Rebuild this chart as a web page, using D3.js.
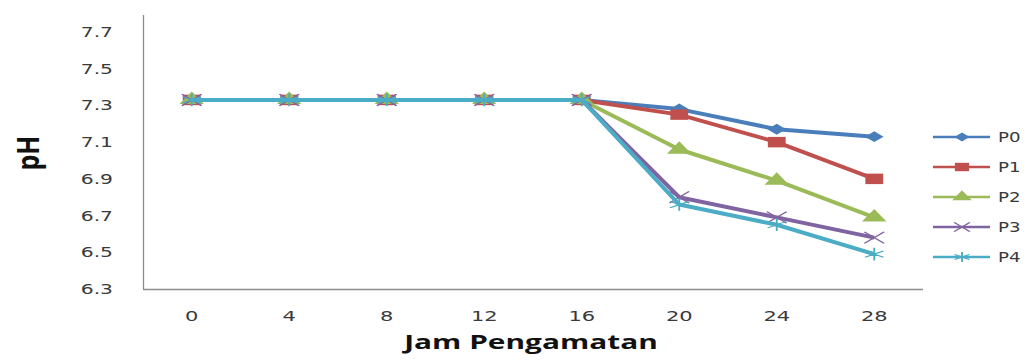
<!DOCTYPE html>
<html>
<head>
<meta charset="utf-8">
<script src="https://cdn.jsdelivr.net/npm/d3@7"></script>
<style>
  body { margin: 0; background: #fff; }
  svg { display: block; }
</style>
</head>
<body>
<script>
// data
var hours = ["0", "4", "8", "12", "16", "20", "24", "28"];
var P0 = [7.33, 7.33, 7.33, 7.33, 7.33, 7.28, 7.17, 7.13];
var P1 = [7.33, 7.33, 7.33, 7.33, 7.33, 7.25, 7.10, 6.90];
var P2 = [7.33, 7.33, 7.33, 7.33, 7.33, 7.06, 6.89, 6.69];
var P3 = [7.33, 7.33, 7.33, 7.33, 7.33, 6.80, 6.69, 6.58];
var P4 = [7.33, 7.33, 7.33, 7.33, 7.33, 6.76, 6.65, 6.49];
var seriesNames = ["P0", "P1", "P2", "P3", "P4"];
var yTicks = [6.3, 6.5, 6.7, 6.9, 7.1, 7.3, 7.5, 7.7];

var colors = ["#4a7ebb", "#c0504d", "#9bbb59", "#8064a2", "#4bacc6"];
// the reference picture is stretched sideways, so markers and text get a scaleX
var markers = [
  { type: d3.symbolSquare, size: 60, rot: 45, fill: true },
  { type: d3.symbolSquare, size: 110, rot: 0, fill: true },
  { type: d3.symbolTriangle, size: 90, rot: 0, fill: true },
  { type: d3.symbolTimes, size: 90, rot: 0, fill: false },
  { type: d3.symbolAsterisk, size: 110, rot: 0, fill: false }
];
var stretch = 1.7;

var series = seriesNames.map(function(n, i) {
  return { name: n, values: [P0, P1, P2, P3, P4][i] };
});

var width = 1029, height = 360;
var svg = d3.select("body").append("svg")
  .attr("width", width)
  .attr("height", height);

var x = d3.scaleBand()
  .domain(hours)
  .range([143, 923]);

var y = d3.scaleLinear()
  .domain([6.3, 7.7])
  .range([289, 32]);

var fontAxis = "'DejaVu Sans', Verdana, sans-serif";

// y axis
var yAxis = d3.axisLeft(y).tickValues(yTicks).tickFormat(d3.format(".1f")).tickSize(0);
var gy = svg.append("g").attr("transform", "translate(143,0)").call(yAxis);
gy.select(".domain").remove();
gy.selectAll("text")
  .attr("x", 0)
  .attr("transform", "translate(-30,0) scale(1.45,1)")
  .attr("fill", "#3a3a3a")
  .style("font-family", fontAxis).style("font-size", "14px");
svg.append("line")
  .attr("x1", 143.5).attr("x2", 143.5).attr("y1", 15).attr("y2", 289)
  .attr("stroke", "#8c8c8c").attr("stroke-width", 1.3);

// x axis
var xAxis = d3.axisBottom(x).tickSize(0).tickPadding(22);
var gx = svg.append("g").attr("transform", "translate(0,289)").call(xAxis);
gx.select(".domain").remove();
gx.selectAll("text")
  .attr("transform", "scale(1.5,1)")
  .attr("fill", "#3a3a3a")
  .style("font-family", fontAxis).style("font-size", "14px");
svg.append("line")
  .attr("x1", 143).attr("x2", 923).attr("y1", 289.5).attr("y2", 289.5)
  .attr("stroke", "#8c8c8c").attr("stroke-width", 1.3);

// titles
svg.append("text")
  .attr("transform", "translate(39,153) rotate(-90) scale(1,1.2)")
  .attr("text-anchor", "middle")
  .style("font-family", "'Open Sans', sans-serif")
  .style("font-weight", "bold")
  .style("font-size", "25px")
  .attr("fill", "#111")
  .text("pH");

svg.append("text")
  .attr("transform", "translate(531,349) scale(1.57,1)")
  .attr("text-anchor", "middle")
  .style("font-family", "'Open Sans', sans-serif")
  .style("font-weight", "bold")
  .style("font-size", "19px")
  .attr("fill", "#111")
  .text("Jam Pengamatan");

// lines + markers
var line = d3.line()
  .x(function(d, i) { return x(hours[i]) + x.bandwidth() / 2; })
  .y(function(d) { return y(d); });

function drawMarker(sel, k, scale) {
  var m = markers[k];
  sel.attr("d", d3.symbol().type(m.type).size(m.size * scale * scale))
    .attr("fill", m.fill ? colors[k] : "none")
    .attr("stroke", m.fill ? "none" : colors[k])
    .attr("stroke-width", 1.1);
}

series.forEach(function(s, k) {
  var g = svg.append("g");
  g.append("path")
    .attr("d", line(s.values))
    .attr("fill", "none")
    .attr("stroke", colors[k])
    .attr("stroke-width", 4)
    .attr("stroke-linejoin", "round");
  g.selectAll("path.m").data(s.values).enter().append("path")
    .attr("class", "m")
    .attr("transform", function(d, i) {
      return "translate(" + (x(hours[i]) + x.bandwidth() / 2) + "," + y(d) + ") scale(" + stretch + ",1) rotate(" + markers[k].rot + ")";
    })
    .call(drawMarker, k, 1);
});

// legend
var legend = svg.append("g").attr("transform", "translate(933,137)");
series.forEach(function(s, k) {
  var row = legend.append("g").attr("transform", "translate(0," + (k * 30) + ")");
  row.append("line")
    .attr("x1", 0).attr("x2", 57)
    .attr("stroke", colors[k]).attr("stroke-width", 2.5);
  row.append("path")
    .attr("transform", "translate(29,0) scale(" + stretch + ",1) rotate(" + markers[k].rot + ")")
    .call(drawMarker, k, 0.8);
  row.append("text")
    .attr("transform", "translate(65,0) scale(1.3,1)")
    .attr("dy", "0.36em")
    .style("font-family", fontAxis)
    .style("font-size", "14px")
    .attr("fill", "#3a3a3a")
    .text(s.name);
});
</script>
</body>
</html>
